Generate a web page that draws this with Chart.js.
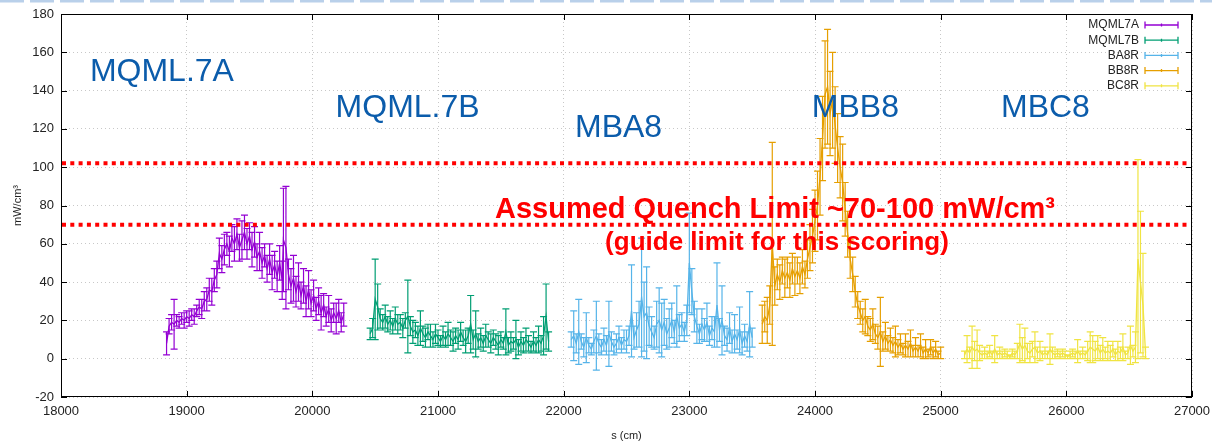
<!DOCTYPE html>
<html>
<head>
<meta charset="utf-8">
<script src="https://cdn.jsdelivr.net/npm/chart.js@4"></script>
<style>
  body { margin: 0; background: #fff; }
  canvas { display: block; }
</style>
</head>
<body>
<canvas id="chart" width="1212" height="442"></canvas>
<script>
// [s (cm), value (mW/cm3), error]
const mqml7a = [
  [18840, 8, 6], [18860, 17, 4], [18880, 19, 4], [18900, 18, 13], [18920, 20, 3], [18940, 19, 3],
  [18960, 21, 3], [18980, 20, 4], [19000, 22, 3], [19020, 21, 4], [19040, 23, 3], [19060, 22, 4],
  [19080, 25, 3], [19100, 27, 4], [19120, 26, 5], [19140, 30, 5], [19160, 31, 6], [19180, 36, 6],
  [19200, 35, 7], [19220, 41, 6], [19240, 44, 7], [19260, 55, 8], [19280, 52, 7], [19300, 57, 8],
  [19320, 60, 6], [19340, 56, 8], [19360, 63, 7], [19380, 60, 9], [19400, 65, 8], [19420, 58, 7],
  [19440, 62, 10], [19460, 66, 9], [19480, 60, 8], [19500, 64, 7], [19520, 57, 9], [19540, 61, 8],
  [19560, 53, 7], [19580, 56, 10], [19600, 50, 8], [19620, 54, 6], [19640, 47, 7], [19660, 52, 8],
  [19680, 45, 9], [19700, 49, 7], [19720, 43, 8], [19740, 50, 9], [19760, 41, 10], [19770, 62, 27],
  [19790, 58, 32], [19810, 44, 8], [19830, 38, 9], [19850, 42, 12], [19870, 35, 8], [19890, 40, 10],
  [19910, 33, 7], [19930, 38, 9], [19950, 30, 8], [19970, 36, 10], [19990, 29, 7], [20010, 33, 8],
  [20030, 26, 6], [20050, 30, 7], [20070, 24, 9], [20090, 28, 6], [20110, 22, 5], [20130, 26, 7],
  [20150, 20, 6], [20170, 24, 5], [20190, 21, 8], [20210, 25, 6], [20230, 19, 5], [20250, 23, 6]
];
const mqml7b = [
  [20460, 13, 3], [20480, 16, 5], [20500, 31, 21], [20520, 27, 12], [20540, 21, 5], [20560, 19, 4],
  [20580, 22, 6], [20600, 18, 4], [20620, 20, 5], [20640, 17, 4], [20660, 21, 6], [20680, 18, 5],
  [20700, 19, 4], [20720, 16, 5], [20740, 20, 4], [20760, 22, 19], [20780, 17, 5], [20800, 14, 6],
  [20820, 15, 4], [20840, 12, 5], [20860, 16, 9], [20880, 13, 4], [20900, 11, 5], [20920, 14, 4],
  [20940, 12, 6], [20960, 10, 4], [20980, 13, 5], [21000, 11, 4], [21020, 9, 3], [21040, 12, 5],
  [21060, 10, 4], [21080, 13, 6], [21100, 11, 4], [21120, 9, 5], [21140, 12, 4], [21160, 10, 5],
  [21180, 14, 5], [21200, 11, 4], [21220, 9, 6], [21240, 12, 4], [21260, 18, 15], [21280, 10, 5],
  [21300, 13, 12], [21320, 9, 4], [21340, 11, 5], [21360, 8, 4], [21380, 12, 6], [21400, 10, 4],
  [21420, 8, 5], [21440, 11, 4], [21460, 9, 4], [21480, 7, 5], [21500, 10, 4], [21520, 8, 3],
  [21540, 14, 12], [21560, 7, 4], [21580, 9, 5], [21600, 8, 3], [21620, 10, 10], [21640, 6, 4],
  [21660, 9, 5], [21680, 7, 4], [21700, 10, 6], [21720, 8, 4], [21740, 6, 3], [21760, 9, 5],
  [21780, 7, 4], [21800, 10, 7], [21820, 8, 4], [21840, 12, 10], [21860, 22, 17], [21880, 9, 5]
];
const ba8r = [
  [22060, 10, 4], [22080, 12, 13], [22100, 8, 5], [22120, 14, 17], [22140, 9, 4], [22160, 6, 5],
  [22180, 11, 13], [22200, 7, 4], [22220, 5, 3], [22240, 9, 6], [22260, 12, 18], [22280, 8, 5],
  [22300, 6, 4], [22320, 10, 6], [22340, 7, 5], [22360, 13, 17], [22380, 9, 5], [22400, 6, 4],
  [22420, 8, 5], [22440, 11, 6], [22460, 7, 4], [22480, 10, 5], [22500, 9, 6], [22520, 12, 5],
  [22540, 25, 24], [22560, 11, 6], [22580, 15, 9], [22600, 18, 12], [22620, 32, 31], [22640, 22, 18],
  [22660, 24, 24], [22680, 17, 10], [22700, 14, 8], [22720, 11, 6], [22740, 18, 12], [22760, 20, 17],
  [22780, 15, 14], [22800, 19, 12], [22820, 13, 8], [22840, 16, 10], [22860, 20, 9], [22880, 14, 6],
  [22900, 22, 16], [22920, 16, 7], [22940, 18, 6], [22960, 14, 5], [22980, 20, 8], [23000, 50, 26],
  [23020, 35, 12], [23040, 22, 8], [23060, 17, 9], [23080, 13, 5], [23100, 18, 8], [23120, 15, 6],
  [23140, 19, 10], [23160, 12, 5], [23180, 16, 6], [23200, 14, 8], [23220, 28, 22], [23240, 15, 6],
  [23260, 20, 18], [23280, 12, 5], [23300, 10, 6], [23320, 16, 8], [23340, 9, 6], [23360, 13, 10],
  [23380, 10, 5], [23400, 15, 12], [23420, 8, 6], [23440, 12, 6], [23460, 9, 5], [23480, 18, 17],
  [23500, 11, 5]
];
const bb8r = [
  [23580, 18, 10], [23600, 22, 8], [23620, 20, 12], [23640, 28, 10], [23660, 60, 53], [23680, 38, 10],
  [23700, 44, 8], [23720, 40, 9], [23740, 46, 7], [23760, 42, 10], [23780, 45, 8], [23800, 41, 9],
  [23820, 47, 8], [23840, 43, 10], [23860, 46, 7], [23880, 42, 8], [23900, 48, 9], [23920, 44, 7],
  [23940, 52, 10], [23960, 58, 12], [23980, 64, 14], [24000, 72, 16], [24020, 80, 18], [24040, 95, 20],
  [24060, 115, 22], [24080, 138, 28], [24100, 142, 30], [24120, 128, 22], [24140, 135, 25], [24160, 122, 20],
  [24180, 110, 18], [24200, 100, 16], [24220, 92, 20], [24240, 78, 14], [24260, 65, 12], [24280, 52, 10],
  [24300, 44, 9], [24320, 35, 8], [24340, 28, 7], [24360, 24, 6], [24380, 20, 6], [24400, 22, 9],
  [24420, 17, 5], [24440, 15, 6], [24460, 18, 8], [24480, 13, 5], [24500, 11, 6], [24520, 14, 18],
  [24540, 9, 5], [24560, 12, 7], [24580, 8, 4], [24600, 10, 6], [24620, 7, 4], [24640, 9, 8],
  [24660, 6, 4], [24680, 8, 5], [24700, 5, 3], [24720, 7, 6], [24740, 5, 4], [24760, 8, 7],
  [24780, 4, 3], [24800, 6, 5], [24820, 4, 3], [24840, 7, 6], [24860, 3, 3], [24880, 5, 5],
  [24900, 3, 2], [24920, 6, 4], [24940, 3, 3], [24960, 5, 4], [24980, 2, 2], [25000, 3, 3]
];
const bc8r = [
  [25190, 2, 2], [25210, 5, 7], [25230, 3, 3], [25250, 6, 11], [25270, 4, 5], [25290, 5, 10],
  [25310, 3, 4], [25330, 2, 2], [25350, 3, 3], [25370, 2, 2], [25390, 4, 3], [25410, 2, 2],
  [25430, 5, 7], [25450, 2, 2], [25470, 3, 3], [25490, 2, 2], [25510, 3, 2], [25530, 2, 2],
  [25550, 1, 1], [25570, 3, 2], [25590, 2, 2], [25610, 4, 4], [25630, 8, 10], [25650, 5, 6],
  [25670, 7, 9], [25690, 4, 4], [25710, 3, 5], [25730, 5, 4], [25750, 6, 8], [25770, 3, 3],
  [25790, 4, 5], [25810, 2, 2], [25830, 3, 3], [25850, 2, 2], [25870, 5, 8], [25890, 3, 3],
  [25910, 2, 2], [25930, 3, 2], [25950, 2, 2], [25970, 3, 2], [25990, 2, 2], [26010, 1, 1],
  [26030, 2, 2], [26050, 3, 2], [26070, 2, 2], [26090, 4, 6], [26110, 2, 2], [26130, 3, 3],
  [26150, 2, 2], [26170, 4, 5], [26190, 6, 8], [26210, 5, 7], [26230, 4, 5], [26250, 6, 6],
  [26270, 3, 4], [26290, 5, 6], [26310, 3, 3], [26330, 4, 5], [26350, 3, 4], [26370, 5, 4],
  [26390, 2, 3], [26410, 4, 5], [26430, 3, 3], [26450, 6, 7], [26470, 2, 2], [26490, 3, 3],
  [26510, 7, 10], [26530, 4, 3], [26550, 6, 8], [26570, 52, 52], [26590, 40, 37], [26610, 28, 27],
  [26630, 3, 3]
];

const seriesNames = ['MQML7A', 'MQML7B', 'BA8R', 'BB8R', 'BC8R'];
const seriesColors = ['#9400d3', '#009e73', '#56b4e9', '#e69f00', '#f0e442'];
const quenchLimits = [70, 102];
// magnet name, x position (cm), y position (mW/cm3)
const magnetLabels = [
  ['MQML.7A', 18230, 145],
  ['MQML.7B', 20185, 126],
  ['MBA8', 22090, 116],
  ['MBB8', 23975, 126],
  ['MBC8', 25480, 126]
];

const allSeries = [mqml7a, mqml7b, ba8r, bb8r, bc8r];
const datasets = allSeries.map((rows, i) => ({
  label: seriesNames[i],
  data: rows.map(r => ({ x: r[0], y: r[1] })),
  errors: rows.map(r => r[2]),
  borderColor: seriesColors[i],
  borderWidth: 1.3,
  pointRadius: 0,
  tension: 0,
  fill: false
}));

const sans = '"Liberation Sans", Arial, sans-serif';

const errorBars = {
  id: 'errorBars',
  afterDatasetDraw(chart, args) {
    const ds = chart.data.datasets[args.index];
    const xs = chart.scales.x, ys = chart.scales.y, ctx = chart.ctx;
    const a = chart.chartArea;
    ctx.save();
    ctx.beginPath();
    ctx.rect(a.left, a.top, a.right - a.left, a.bottom - a.top);
    ctx.clip();
    ctx.strokeStyle = ds.borderColor;
    ctx.lineWidth = 1.2;
    ctx.beginPath();
    ds.data.forEach((p, i) => {
      const px = xs.getPixelForValue(p.x);
      const lo = ys.getPixelForValue(p.y - ds.errors[i]);
      const hi = ys.getPixelForValue(p.y + ds.errors[i]);
      ctx.moveTo(px, lo); ctx.lineTo(px, hi);
      ctx.moveTo(px - 3.5, lo); ctx.lineTo(px + 3.5, lo);
      ctx.moveTo(px - 3.5, hi); ctx.lineTo(px + 3.5, hi);
    });
    ctx.stroke();
    ctx.restore();
  }
};

const decorations = {
  id: 'decorations',
  afterDraw(chart) {
    const ctx = chart.ctx, a = chart.chartArea;
    const xs = chart.scales.x, ys = chart.scales.y;
    ctx.save();

    // slide border at the top
    ctx.strokeStyle = '#b9d0ea';
    ctx.lineWidth = 3;
    ctx.setLineDash([24, 6]);
    ctx.beginPath(); ctx.moveTo(0, 1); ctx.lineTo(1212, 1); ctx.stroke();
    ctx.setLineDash([]);

    // frame and inward ticks
    ctx.strokeStyle = '#000';
    ctx.lineWidth = 1;
    ctx.strokeRect(a.left + 0.5, a.top + 0.5, a.right - a.left - 1, a.bottom - a.top - 1);
    ctx.beginPath();
    xs.ticks.forEach(t => {
      const px = Math.round(xs.getPixelForValue(t.value)) + 0.5;
      ctx.moveTo(px, a.bottom); ctx.lineTo(px, a.bottom - 6);
      ctx.moveTo(px, a.top); ctx.lineTo(px, a.top + 6);
    });
    ys.ticks.forEach(t => {
      const py = Math.round(ys.getPixelForValue(t.value)) + 0.5;
      ctx.moveTo(a.left, py); ctx.lineTo(a.left + 6, py);
      ctx.moveTo(a.right, py); ctx.lineTo(a.right - 6, py);
    });
    ctx.stroke();

    // axis titles
    ctx.fillStyle = '#222';
    ctx.font = '11px ' + sans;
    ctx.textAlign = 'center';
    ctx.textBaseline = 'middle';
    ctx.fillText('s (cm)', (a.left + a.right) / 2, 436);
    ctx.save();
    ctx.translate(18, (a.top + a.bottom) / 2);
    ctx.rotate(-Math.PI / 2);
    ctx.fillText('mW/cm³', 0, 0);
    ctx.restore();

    // quench limit lines
    ctx.strokeStyle = '#ff0000';
    ctx.lineWidth = 4;
    ctx.setLineDash([4, 4.3]);
    quenchLimits.forEach(v => {
      const py = ys.getPixelForValue(v);
      ctx.beginPath(); ctx.moveTo(a.left + 1, py); ctx.lineTo(a.right - 3, py); ctx.stroke();
    });
    ctx.setLineDash([]);

    // magnet names
    ctx.fillStyle = '#0b5cab';
    ctx.font = '32px ' + sans;
    ctx.textAlign = 'left';
    ctx.textBaseline = 'alphabetic';
    magnetLabels.forEach(([txt, sx, vy]) => {
      ctx.fillText(txt, xs.getPixelForValue(sx), ys.getPixelForValue(vy));
    });

    // quench limit text
    ctx.fillStyle = '#ff0000';
    ctx.textAlign = 'center';
    ctx.font = 'bold 29px ' + sans;
    ctx.fillText('Assumed Quench Limit ~70-100 mW/cm³', 775, 218);
    ctx.font = 'bold 26px ' + sans;
    ctx.fillText('(guide limit for this scoring)', 777, 250);

    // key
    ctx.font = '12px ' + sans;
    ctx.textAlign = 'right';
    ctx.textBaseline = 'middle';
    ctx.lineWidth = 1.3;
    chart.data.datasets.forEach((ds, i) => {
      const y = 25 + i * 15.2;
      ctx.fillStyle = '#222';
      ctx.fillText(ds.label, 1139, y);
      ctx.strokeStyle = ds.borderColor;
      ctx.beginPath();
      ctx.moveTo(1145, y); ctx.lineTo(1178, y);
      ctx.moveTo(1145, y - 3.5); ctx.lineTo(1145, y + 3.5);
      ctx.moveTo(1178, y - 3.5); ctx.lineTo(1178, y + 3.5);
      ctx.moveTo(1161.5, y - 1.5); ctx.lineTo(1161.5, y + 1.5);
      ctx.stroke();
    });

    ctx.restore();
  }
};

new Chart(document.getElementById('chart').getContext('2d'), {
  type: 'line',
  data: { datasets },
  options: {
    responsive: false,
    animation: false,
    devicePixelRatio: 1,
    layout: { padding: { top: 14, right: 20, left: 0, bottom: 0 } },
    plugins: { legend: { display: false }, tooltip: { enabled: false } },
    scales: {
      x: {
        type: 'linear',
        min: 18000,
        max: 27000,
        afterFit: s => { s.height = 45; s.paddingLeft = 0; s.paddingRight = 0; },
        grid: { color: '#c8c8c8', lineWidth: 1, drawTicks: false },
        border: { display: false, dash: [1, 3] },
        ticks: {
          stepSize: 1000,
          padding: 7,
          color: '#222',
          font: { family: sans, size: 13 },
          maxRotation: 0,
          callback: v => String(v)
        }
      },
      y: {
        min: -20,
        max: 180,
        afterFit: s => { s.width = 61; s.paddingTop = 0; s.paddingBottom = 0; },
        grid: { color: '#c8c8c8', lineWidth: 1, drawTicks: false },
        border: { display: false, dash: [1, 3] },
        ticks: {
          stepSize: 20,
          padding: 7,
          color: '#222',
          font: { family: sans, size: 13 },
          callback: v => String(v)
        }
      }
    }
  },
  plugins: [errorBars, decorations]
});
</script>
</body>
</html>
